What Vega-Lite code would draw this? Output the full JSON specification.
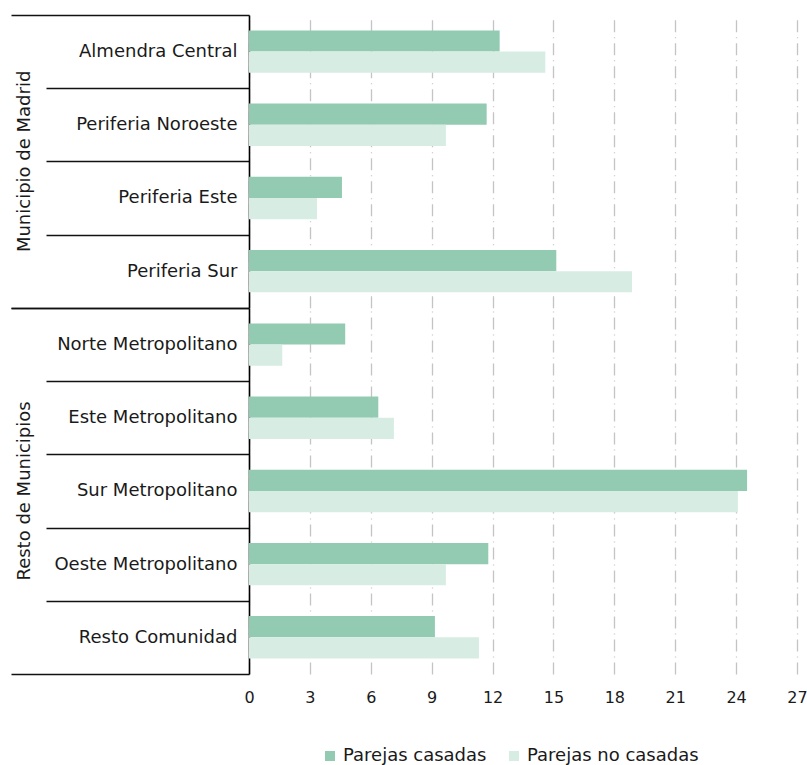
{
  "$schema": "https://vega.github.io/schema/vega-lite/v6.json",
  "padding": {"left": 10, "top": 6, "right": 12, "bottom": 0},
  "data": {"values": [
    {"grupo": "Municipio de Madrid", "zona": "Almendra Central", "serie": "Parejas casadas", "valor": 12.35},
    {"grupo": "Municipio de Madrid", "zona": "Almendra Central", "serie": "Parejas no casadas", "valor": 14.6},
    {"grupo": "Municipio de Madrid", "zona": "Periferia Noroeste", "serie": "Parejas casadas", "valor": 11.71},
    {"grupo": "Municipio de Madrid", "zona": "Periferia Noroeste", "serie": "Parejas no casadas", "valor": 9.7},
    {"grupo": "Municipio de Madrid", "zona": "Periferia Este", "serie": "Parejas casadas", "valor": 4.58},
    {"grupo": "Municipio de Madrid", "zona": "Periferia Este", "serie": "Parejas no casadas", "valor": 3.35},
    {"grupo": "Municipio de Madrid", "zona": "Periferia Sur", "serie": "Parejas casadas", "valor": 15.14},
    {"grupo": "Municipio de Madrid", "zona": "Periferia Sur", "serie": "Parejas no casadas", "valor": 18.87},
    {"grupo": "Resto de Municipios", "zona": "Norte Metropolitano", "serie": "Parejas casadas", "valor": 4.74},
    {"grupo": "Resto de Municipios", "zona": "Norte Metropolitano", "serie": "Parejas no casadas", "valor": 1.64},
    {"grupo": "Resto de Municipios", "zona": "Este Metropolitano", "serie": "Parejas casadas", "valor": 6.37},
    {"grupo": "Resto de Municipios", "zona": "Este Metropolitano", "serie": "Parejas no casadas", "valor": 7.14},
    {"grupo": "Resto de Municipios", "zona": "Sur Metropolitano", "serie": "Parejas casadas", "valor": 24.54},
    {"grupo": "Resto de Municipios", "zona": "Sur Metropolitano", "serie": "Parejas no casadas", "valor": 24.09},
    {"grupo": "Resto de Municipios", "zona": "Oeste Metropolitano", "serie": "Parejas casadas", "valor": 11.79},
    {"grupo": "Resto de Municipios", "zona": "Oeste Metropolitano", "serie": "Parejas no casadas", "valor": 9.7},
    {"grupo": "Resto de Municipios", "zona": "Resto Comunidad", "serie": "Parejas casadas", "valor": 9.16},
    {"grupo": "Resto de Municipios", "zona": "Resto Comunidad", "serie": "Parejas no casadas", "valor": 11.33}
  ]},
  "facet": {
    "row": {
      "field": "grupo", "type": "nominal",
      "sort": ["Municipio de Madrid", "Resto de Municipios"],
      "header": {
        "title": null,
        "labelAngle": -90,
        "labelOrient": "left",
        "labelPadding": 206,
        "labelFont": "DejaVu Sans",
        "labelFontSize": 18,
        "labelColor": "#1a1a1a"
      }
    }
  },
  "spacing": 0,
  "bounds": "flush",
  "resolve": {"scale": {"y": "independent"}},
  "spec": {
    "width": 548,
    "height": {"step": 21.2},
    "mark": {"type": "bar"},
    "encoding": {
      "y": {
        "field": "zona", "type": "nominal", "sort": null,
        "scale": {"paddingInner": 0, "paddingOuter": 0},
        "axis": {
          "title": null,
          "tickBand": "extent",
          "tickSize": {"expr": "(datum.extra || datum.value == 'Periferia Sur' || datum.value == 'Resto Comunidad') ? 238 : 203"},
          "labelPadding": {"expr": "(datum.value == 'Periferia Sur' || datum.value == 'Resto Comunidad') ? -226 : -191"},
          "tickColor": "#111111",
          "tickWidth": 1.3,
          "domainColor": "#000000",
          "domainWidth": 1.6,
          "labelFont": "DejaVu Sans",
          "labelFontSize": 18,
          "labelColor": "#1a1a1a",
          "labelLimit": 300,
          "grid": false
        }
      },
      "x": {
        "field": "valor", "type": "quantitative",
        "scale": {"domain": [0, 27], "nice": false},
        "axis": {
          "title": null,
          "values": [0, 3, 6, 9, 12, 15, 18, 21, 24, 27],
          "domain": false,
          "ticks": false,
          "labelFlush": false,
          "labelPadding": 15,
          "labelFont": "DejaVu Sans",
          "labelFontSize": 16,
          "labelColor": "#1a1a1a",
          "grid": true,
          "gridDash": [12, 5, 1, 5],
          "gridColor": "#c4c4c4",
          "gridWidth": 1.3
        }
      },
      "yOffset": {
        "field": "serie", "type": "nominal",
        "sort": ["Parejas casadas", "Parejas no casadas"],
        "scale": {"paddingInner": 0, "paddingOuter": 0.726}
      },
      "color": {
        "field": "serie", "type": "nominal",
        "scale": {"domain": ["Parejas casadas", "Parejas no casadas"], "range": ["#92cbb2", "#d7ede3"]},
        "legend": {
          "title": null,
          "orient": "none",
          "legendX": 72,
          "legendY": 732,
          "direction": "horizontal",
          "symbolType": "square",
          "symbolSize": 100,
          "symbolStrokeWidth": 0,
          "labelFont": "DejaVu Sans",
          "labelFontSize": 18,
          "labelColor": "#1a1a1a",
          "labelLimit": 300,
          "columnPadding": 18,
          "labelOffset": 4
        }
      }
    }
  },
  "config": {
    "font": "DejaVu Sans",
    "view": {"stroke": null}
  }
}
